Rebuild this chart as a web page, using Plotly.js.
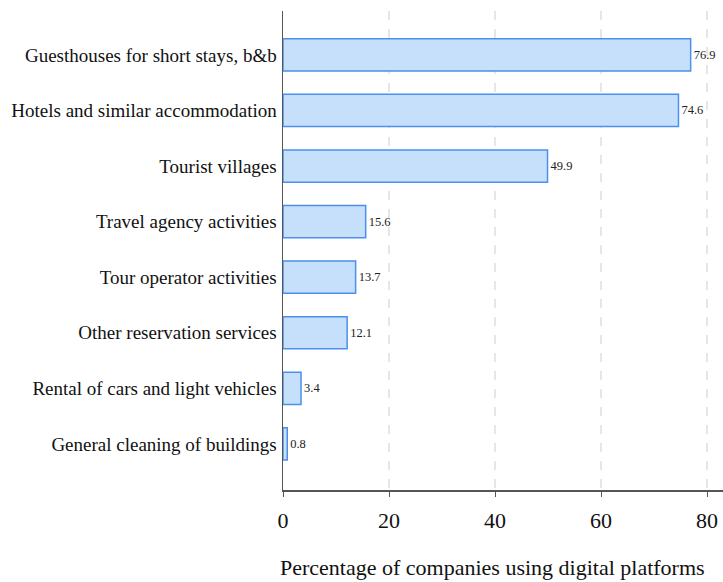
<!DOCTYPE html>
<html>
<head>
<meta charset="utf-8">
<script src="https://cdn.plot.ly/plotly-3.0.1.min.js"></script>
<style>html,body{margin:0;padding:0;background:#fff;}#chart{width:723px;height:582px;}</style>
</head>
<body>
<div id="chart"></div>
<script>
const categories = [
  "Guesthouses for short stays, b&b",
  "Hotels and similar accommodation",
  "Tourist villages",
  "Travel agency activities",
  "Tour operator activities",
  "Other reservation services",
  "Rental of cars and light vehicles",
  "General cleaning of buildings"
];
const percentages = [76.9, 74.6, 49.9, 15.6, 13.7, 12.1, 3.4, 0.8];
const xTickValues = [0, 20, 40, 60, 80];
const xTitle = "Percentage of companies using digital platforms";

const serif = "'Liberation Serif', 'Times New Roman', serif";

const trace = {
  type: "bar",
  orientation: "h",
  x: percentages,
  y: categories,
  width: 0.58,
  marker: {color: "#c6e0fc", line: {color: "#4a90ec", width: 1.5}},
  text: percentages.map(v => v.toFixed(1)),
  textposition: "outside",
  textfont: {family: serif, size: 12.5, color: "#222"},
  cliponaxis: false,
  hoverinfo: "none"
};

const layout = {
  width: 723, height: 582,
  margin: {l: 283, r: 0, t: 11, b: 92},
  paper_bgcolor: "#fff", plot_bgcolor: "#fff",
  showlegend: false,
  font: {family: serif, color: "#111"},
  xaxis: {
    range: [0, 83.0],
    tickvals: xTickValues,
    ticktext: xTickValues.map(String),
    tickfont: {family: serif, size: 22, color: "#111"},
    showline: true, linecolor: "#555", linewidth: 1.5,
    ticks: "outside", ticklen: 5, tickcolor: "#555", tickwidth: 1,
    ticklabelstandoff: 5,
    showgrid: true, gridcolor: "#e6e6e6", griddash: "dash", gridwidth: 1.5,
    zeroline: false
  },
  yaxis: {
    type: "category",
    range: [7.83, -0.79],
    tickfont: {family: serif, size: 19, color: "#111"},
    showline: true, linecolor: "#555", linewidth: 1.5,
    ticks: "", showgrid: false, zeroline: false,
    ticklabelstandoff: 1
  },
  annotations: [{
    text: xTitle,
    xref: "paper", yref: "paper",
    x: 0.475, y: 0, xanchor: "center", yanchor: "middle",
    yshift: -77, showarrow: false,
    font: {family: serif, size: 22, color: "#111"}
  }]
};

Plotly.newPlot("chart", [trace], layout, {staticPlot: true, displayModeBar: false});
</script>
</body>
</html>
